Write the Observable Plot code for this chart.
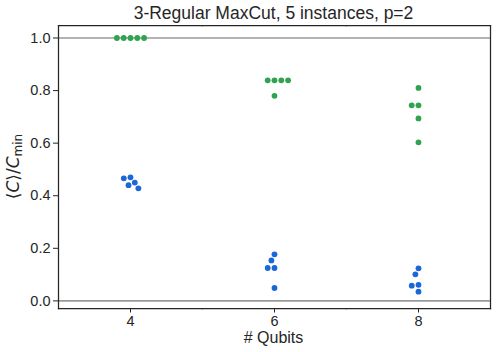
<!DOCTYPE html>
<html><head><meta charset="utf-8">
<script src="https://cdn.jsdelivr.net/npm/d3@7"></script>
<script src="https://cdn.jsdelivr.net/npm/@observablehq/plot@0.6"></script>
<style>body{margin:0;background:#fff;}</style>
</head><body><div id="chart"></div>
<script>
const qubitCategories = [4, 6, 8];
const seriesNames = ["optimized", "baseline"];
const optimizedByQubits = [
  [1.0, 1.0, 1.0, 1.0, 1.0],
  [0.839, 0.839, 0.839, 0.839, 0.780],
  [0.810, 0.744, 0.744, 0.694, 0.603]
];
const baselineByQubits = [
  [0.470, 0.466, 0.450, 0.440, 0.428],
  [0.177, 0.154, 0.125, 0.125, 0.049],
  [0.124, 0.101, 0.061, 0.058, 0.035]
];
const yTicks = [0, 0.2, 0.4, 0.6, 0.8, 1.0];
const refLines = [0, 1];
const titleText = "3-Regular MaxCut, 5 instances, p=2";
const xLabelText = "# Qubits";

const data = [];
qubitCategories.forEach((q, i) => {
  optimizedByQubits[i].forEach(v => data.push({qubits: q, value: v, series: seriesNames[0]}));
  baselineByQubits[i].forEach(v => data.push({qubits: q, value: v, series: seriesNames[1]}));
});

const W = 496, H = 352, mT = 25, mB = 44, mL = 57, mR = 6;
const ink = "#262626";
const frameStyle = {stroke: ink, strokeWidth: 1.25};

const plot = Plot.plot({
  width: W, height: H, marginTop: mT, marginBottom: mB, marginLeft: mL, marginRight: mR,
  style: {fontFamily: "'Liberation Sans', Arial, sans-serif", fontSize: "14.5px", color: ink, background: "#fff"},
  fx: {domain: qubitCategories, padding: 0, label: null},
  y: {domain: [-0.029, 1.0475]},
  color: {domain: seriesNames, range: ["#2fa350", "#1b66d8"]},
  marks: [
    Plot.ruleY(refLines, {stroke: "#9a9a9a", strokeWidth: 1.6}),
    Plot.dot(data, Plot.dodgeX("middle", {fx: "qubits", y: "value", fill: "series", r: 2.9, padding: 0.2})),
    Plot.frame({anchor: "top", ...frameStyle}),
    Plot.frame({anchor: "bottom", ...frameStyle}),
    Plot.frame({anchor: "left", facetAnchor: "left", ...frameStyle}),
    Plot.frame({anchor: "right", facetAnchor: "right", ...frameStyle}),
    Plot.axisY({anchor: "left", ticks: yTicks, tickFormat: d3.format(".1f"), tickSize: 5, tickPadding: 3, label: null}),
    Plot.axisFx({anchor: "bottom", tickSize: 4.5, tickPadding: 3, label: null})
  ]
});

const svg = d3.select(plot);
const cx = mL + (W - mL - mR) / 2;
svg.append("text").attr("x", cx).attr("y", 19).attr("text-anchor", "middle")
  .attr("font-size", 17.5).attr("fill", ink).text(titleText);
svg.append("text").attr("x", cx).attr("y", 343).attr("text-anchor", "middle")
  .attr("font-size", 16).attr("fill", ink).text(xLabelText);
const yl = svg.append("text")
  .attr("transform", `translate(19,${(mT + H - mB) / 2}) rotate(-90)`)
  .attr("text-anchor", "middle").attr("font-size", 17).attr("fill", ink)
  .attr("font-family", "'DejaVu Sans', sans-serif");
yl.append("tspan").text("\u27E8");
yl.append("tspan").attr("font-style", "italic").text("C");
yl.append("tspan").text("\u27E9/");
yl.append("tspan").attr("font-style", "italic").text("C");
yl.append("tspan").attr("font-size", 12).attr("dy", 3).text("min");

document.getElementById("chart").appendChild(plot);
</script>
</body></html>
